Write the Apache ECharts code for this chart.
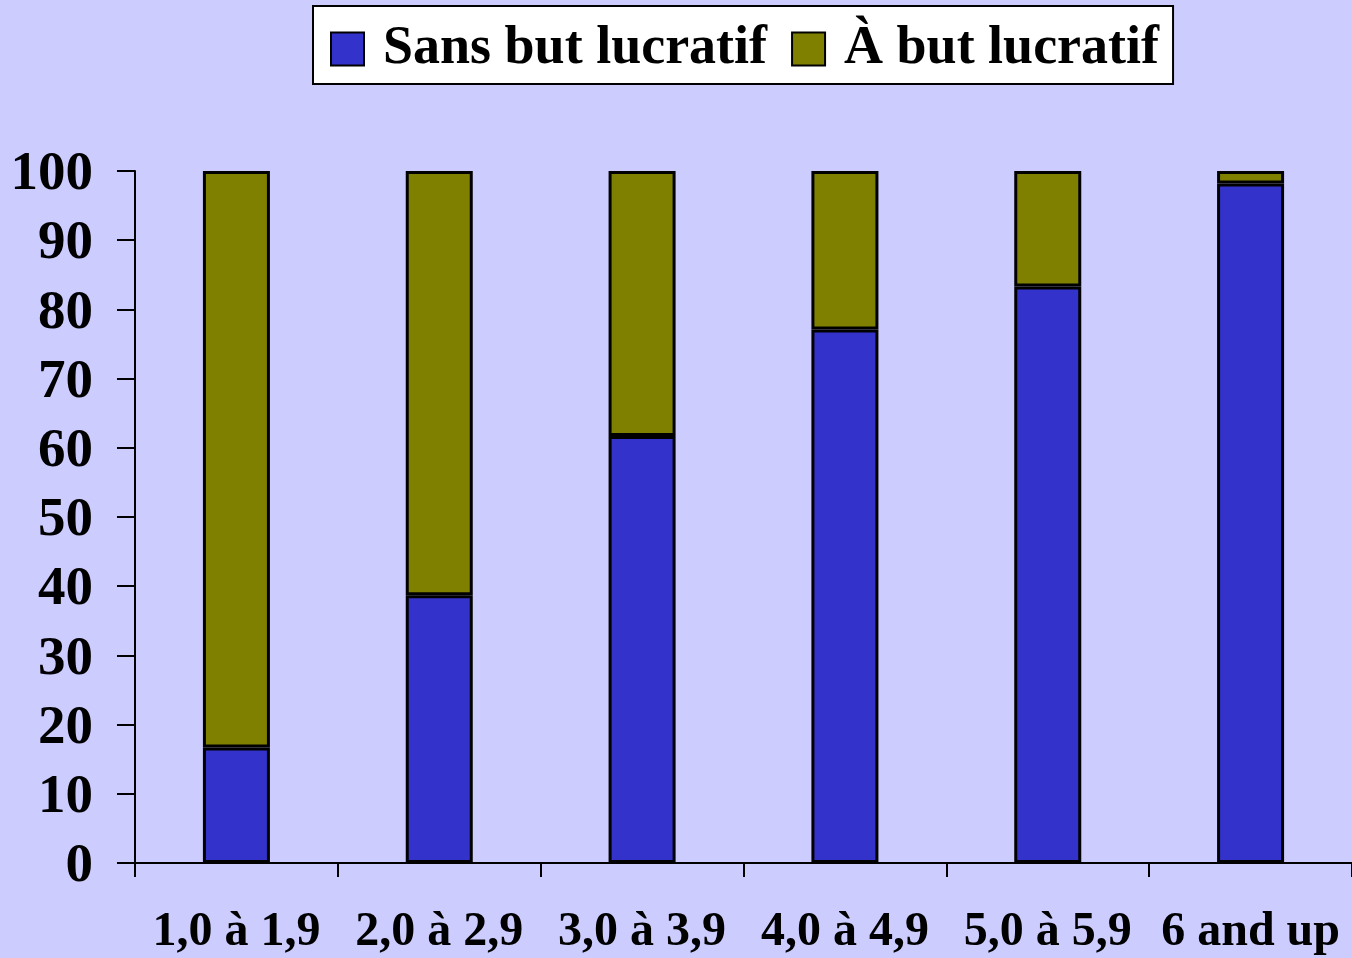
<!DOCTYPE html>
<html>
<head>
<meta charset="utf-8">
<script src="https://cdn.jsdelivr.net/npm/echarts@6/dist/echarts.min.js"></script>
<style>
html,body{margin:0;padding:0;background:#CCCCFF;}
#chart{width:1352px;height:958px;}
</style>
</head>
<body>
<div id="chart"></div>
<script>
var categories = ['1,0 à 1,9', '2,0 à 2,9', '3,0 à 3,9', '4,0 à 4,9', '5,0 à 5,9', '6 and up'];
var sansBut = [16.7, 38.7, 61.7, 77.1, 83.3, 98.2];
var aBut = [83.3, 61.3, 38.3, 22.9, 16.7, 1.8];
var seriesNames = ['Sans but lucratif', 'À but lucratif'];

var chart = echarts.init(document.getElementById('chart'));
var font = 'Liberation Serif, Times New Roman, serif';
chart.setOption({
  backgroundColor: '#CCCCFF',
  animation: false,
  legend: {
    left: 313,
    top: 6,
    backgroundColor: '#FFFFFF',
    borderColor: '#000000',
    borderWidth: 2,
    padding: [16, 14, 8, 17],
    itemGap: 24,
    itemWidth: 33,
    itemHeight: 33,
    icon: 'rect',
    textStyle: {
      fontFamily: font,
      fontWeight: 'bold',
      fontSize: 54,
      color: '#000',
      padding: [0, 0, 0, 14]
    },
    data: seriesNames
  },
  grid: { left: 135, right: 0, top: 171, bottom: 95, containLabel: false },
  xAxis: {
    type: 'category',
    data: categories,
    axisLine: { lineStyle: { color: '#000', width: 2 } },
    axisTick: { show: true, length: 14, lineStyle: { color: '#000', width: 2 } },
    axisLabel: {
      fontFamily: font, fontWeight: 'bold', fontSize: 48, color: '#000', margin: 46, interval: 0
    }
  },
  yAxis: {
    type: 'value',
    min: 0, max: 100, interval: 10,
    axisLine: { show: true, lineStyle: { color: '#000', width: 2 } },
    axisTick: { show: true, length: 18, lineStyle: { color: '#000', width: 2 } },
    splitLine: { show: false },
    axisLabel: {
      margin: 42,
      formatter: '{a|{value}}',
      rich: {
        a: { fontFamily: font, fontWeight: 'bold', fontSize: 55, color: '#000', padding: [8, 0, 0, 0] }
      }
    }
  },
  series: [
    {
      name: seriesNames[0], type: 'bar', stack: 'total', barWidth: 67,
      data: sansBut,
      itemStyle: { color: '#3333CC', borderColor: '#000', borderWidth: 3 }
    },
    {
      name: seriesNames[1], type: 'bar', stack: 'total', barWidth: 67,
      data: aBut,
      itemStyle: { color: '#808000', borderColor: '#000', borderWidth: 3 }
    }
  ]
});
</script>
</body>
</html>
